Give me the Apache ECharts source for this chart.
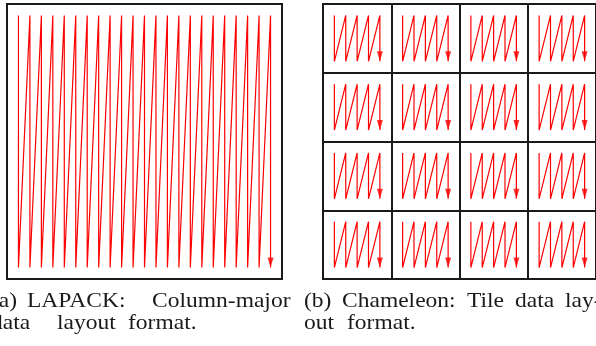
<!DOCTYPE html>
<html>
<head>
<meta charset="utf-8">
<script src="https://cdn.jsdelivr.net/npm/echarts@6/dist/echarts.min.js"></script>
<style>
  html, body { margin: 0; padding: 0; background: #fff; }
  #chart { width: 596px; height: 346px; }
</style>
</head>
<body>
<div id="chart"></div>
<script>
// (a) LAPACK: a single matrix walked column by column
const lapackColumns = [1, 2, 3, 4, 5, 6, 7, 8, 9, 10, 11, 12, 13, 14, 15, 16, 17, 18, 19, 20, 21, 22, 23];
const lapackRows = [1, 23];          // first and last row of each column

// (b) Chameleon: 4 x 4 tiles, each walked column by column on its own
const tileOrigins = [0, 6, 12, 18];  // start of each tile along both axes
const tileColumns = [1, 2, 3, 4, 5]; // column offsets inside a tile
const tileRows = [1, 5];             // first and last row offset inside a tile

const axisExtent = [0, 24];

// caption words: [text, x] per line
const captionA1 = [['(a)', -9], ['LAPACK:', 27], ['Column-major', 152]];
const captionA2 = [['data', -9], ['layout', 57], ['format.', 128]];
const captionB1 = [['(b)', 304], ['Chameleon:', 342], ['Tile', 467], ['data', 515], ['lay-', 565]];
const captionB2 = [['out', 304], ['format.', 347]];

const RED = '#ff0000';
const INK = '#1a1a1a';

// column-major walk: down a column, then up to the top of the next one
function columnWalk(cols, rows, dx, dy) {
  const pts = [];
  cols.forEach(c => {
    pts.push([dx + c, dy + rows[0]]);
    pts.push([dx + c, dy + rows[1]]);
  });
  return pts;
}

const arrowPath = 'path://M0,0 L6,0 L3,10 Z';

const series = [];

// left panel
const lapackPath = columnWalk(lapackColumns, lapackRows, 0, 0);
series.push({
  type: 'line', xAxisIndex: 0, yAxisIndex: 0,
  data: lapackPath, showSymbol: false, silent: true,
  lineStyle: { color: RED, width: 1.2 }
});
series.push({
  type: 'scatter', xAxisIndex: 0, yAxisIndex: 0,
  data: [lapackPath[lapackPath.length - 1]],
  symbol: arrowPath, symbolSize: [6, 10], symbolOffset: [0, -5],
  itemStyle: { color: RED }, silent: true
});

// right panel
const tileEnds = [];
tileOrigins.forEach(ty => {
  tileOrigins.forEach(tx => {
    const path = columnWalk(tileColumns, tileRows, tx, ty);
    tileEnds.push(path[path.length - 1]);
    series.push({
      type: 'line', xAxisIndex: 1, yAxisIndex: 1,
      data: path, showSymbol: false, silent: true,
      lineStyle: { color: RED, width: 1.2 }
    });
  });
});
series.push({
  type: 'scatter', xAxisIndex: 1, yAxisIndex: 1,
  data: tileEnds,
  symbol: arrowPath, symbolSize: [6, 10], symbolOffset: [0, -5],
  itemStyle: { color: RED }, silent: true
});

// caption words, widened slightly to the book face's proportions
function captionText(words, baseline) {
  return words.map(([t, x]) => ({
    type: 'text', x: x, y: baseline, scaleX: 1.12, silent: true,
    style: {
      text: t, fill: INK,
      font: '21px "Liberation Serif", serif',
      verticalAlign: 'bottom'
    }
  }));
}

const hiddenAxis = (gridIndex, inverse) => ({
  type: 'value', gridIndex, min: axisExtent[0], max: axisExtent[1],
  inverse: !!inverse, show: false
});

const tileAxis = (gridIndex, inverse) => ({
  type: 'value', gridIndex, min: axisExtent[0], max: axisExtent[1],
  interval: 6, inverse: !!inverse,
  axisLine: { show: false }, axisTick: { show: false }, axisLabel: { show: false },
  splitLine: { show: true, lineStyle: { color: INK, width: 2 } }
});

const chart = echarts.init(document.getElementById('chart'), null, { renderer: 'canvas' });
chart.setOption({
  animation: false,
  backgroundColor: '#fff',
  grid: [
    { left: 7, top: 4, width: 275, height: 275, show: true, borderColor: INK, borderWidth: 2 },
    { left: 323, top: 4, width: 275, height: 275, show: true, borderColor: INK, borderWidth: 2 }
  ],
  xAxis: [hiddenAxis(0), tileAxis(1)],
  yAxis: [hiddenAxis(0, true), tileAxis(1, true)],
  series: series,
  graphic: [
    ...captionText(captionA1, 312),
    ...captionText(captionA2, 334),
    ...captionText(captionB1, 312),
    ...captionText(captionB2, 334)
  ]
});
</script>
</body>
</html>
